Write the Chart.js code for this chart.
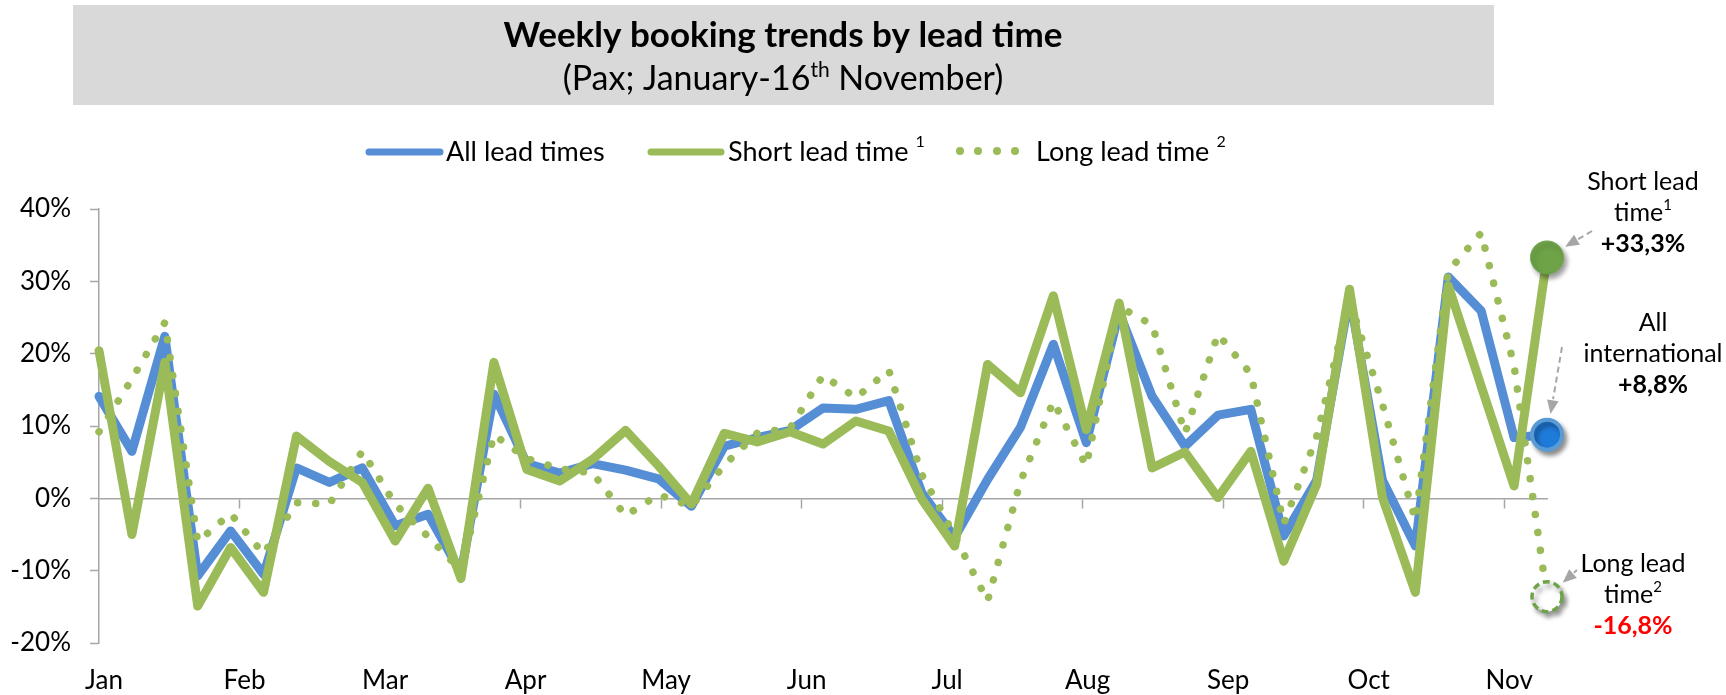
<!DOCTYPE html>
<html>
<head>
<meta charset="utf-8">
<title>Weekly booking trends by lead time</title>
<script src="https://cdn.jsdelivr.net/npm/chart.js@4.4.1/dist/chart.umd.min.js"></script>
<style>
    html, body { margin: 0; padding: 0; background: #fff; }
    #wrap { width: 1726px; height: 695px; }
</style>
</head>
<body>
<div id="wrap"><canvas id="chart" width="1726" height="695"></canvas></div>
<script>
// ─── DATA ─────────────────────────────────────────────────
const months = ['Jan', 'Feb', 'Mar', 'Apr', 'May', 'Jun', 'Jul', 'Aug', 'Sep', 'Oct', 'Nov']
const monthStep = 4.27 // weeks between month ticks on the axis

// weekly change vs last year, %
const allLead = [
    14.1, 6.5, 22.4, -10.7, -4.5, -10.5, 4.2, 2.2, 4.2, -3.8, -2.2, -10.3,
    14.4, 4.8, 3.5, 4.8, 3.9, 2.7, -1.1, 7.2, 8.4, 9.4, 12.5, 12.3,
    13.5, 0.8, -5.4, 2.6, 9.8, 21.3, 7.7, 25.7, 14.1, 7.2, 11.5, 12.3,
    -5.2, 2.5, 28.0, 2.5, -6.6, 30.6, 25.9, 8.4, 8.8
]
const shortLead = [
    20.4, -5.0, 18.8, -14.9, -6.8, -13.0, 8.6, 5.1, 2.2, -5.9, 1.4, -11.1,
    18.8, 4.0, 2.4, 5.4, 9.4, 4.5, -0.8, 9.0, 7.8, 9.2, 7.5, 10.7,
    9.3, -0.1, -6.6, 18.5, 14.6, 28.0, 9.5, 27.0, 4.2, 6.4, 0.1, 6.5,
    -8.7, 1.9, 28.9, 0.1, -13.0, 29.4, 15.5, 1.7, 33.3
]
const longLead = [
    9.2, 16.5, 24.3, -6.0, -2.1, -7.7, -0.6, -0.8, 6.5, -0.8, -5.3, -10.0,
    8.8, 5.5, 4.1, 3.5, -2.4, 0.5, -1.1, 4.6, 9.0, 9.7, 17.0, 13.9,
    17.7, 3.3, -5.2, -14.2, 2.3, 13.4, 4.5, 26.5, 24.0, 9.0, 22.7, 17.2,
    -3.5, 8.5, 27.5, 13.0, -3.0, 31.4, 36.7, 18.3, -13.6
]
const endLabels = { short: '+33,3%', all: '+8,8%', long: '-16,8%' }

// ─── STYLE ────────────────────────────────────────────────
const BLUE = '#558ed5'
const GREEN = '#9bbb59'
const DARK_GREEN = '#6ea348'
const AXIS = '#a6a6a6'
const FONT = 'Lato, "Open Sans", sans-serif'

const toPoints = arr => arr.map((v, i) => ({ x: i, y: v }))
const lastPoint = arr => [{ x: arr.length - 1, y: arr[arr.length - 1] }]

// ─── TEXT HELPERS ─────────────────────────────────────────
// parts: [{ t, size, bold, dy, gap }]
function richWidth(ctx, parts) {
    return parts.reduce((w, p) => {
        ctx.font = `${p.bold ? 'bold ' : ''}${p.size}px ${FONT}`
        return w + ctx.measureText(p.t).width + (p.gap || 0)
    }, 0)
}

function drawRich(ctx, parts, x, y, align = 'left', color = '#000') {
    let cx = align === 'center' ? x - richWidth(ctx, parts) / 2 : x
    ctx.textAlign = 'left'
    ctx.textBaseline = 'alphabetic'
    ctx.fillStyle = color
    parts.forEach(p => {
        ctx.font = `${p.bold ? 'bold ' : ''}${p.size}px ${FONT}`
        ctx.fillText(p.t, cx, y + (p.dy || 0))
        cx += ctx.measureText(p.t).width + (p.gap || 0)
    })
}

function drawArrow(ctx, x1, y1, x2, y2) {
    const ang = Math.atan2(y2 - y1, x2 - x1)
    const head = 15
    ctx.save()
    ctx.strokeStyle = AXIS
    ctx.fillStyle = AXIS
    ctx.lineWidth = 2
    ctx.setLineDash([6, 4])
    ctx.beginPath()
    ctx.moveTo(x1, y1)
    ctx.lineTo(x2 - Math.cos(ang) * head, y2 - Math.sin(ang) * head)
    ctx.stroke()
    ctx.setLineDash([])
    ctx.beginPath()
    ctx.moveTo(x2, y2)
    ctx.lineTo(x2 - Math.cos(ang - 0.4) * head, y2 - Math.sin(ang - 0.4) * head)
    ctx.lineTo(x2 - Math.cos(ang + 0.4) * head, y2 - Math.sin(ang + 0.4) * head)
    ctx.closePath()
    ctx.fill()
    ctx.restore()
}

// ─── PLUGIN: title box, legend, end notes ─────────────────
const decor = {
    id: 'decor',
    beforeDraw(chart) {
        const ctx = chart.ctx
        ctx.save()
        ctx.fillStyle = '#d9d9d9'
        ctx.fillRect(73, 5, 1421, 100)

        drawRich(ctx, [{ t: 'Weekly booking trends by lead time', size: 35, bold: true }], 783, 47, 'center')
        drawRich(ctx, [
            { t: '(Pax; January-16', size: 34 },
            { t: 'th', size: 21, dy: -13 },
            { t: ' November)', size: 34 }
        ], 783, 90, 'center')

        // legend
        ctx.lineCap = 'round'
        ctx.lineWidth = 7
        ctx.strokeStyle = BLUE
        ctx.beginPath(); ctx.moveTo(369, 152); ctx.lineTo(440, 152); ctx.stroke()
        ctx.strokeStyle = GREEN
        ctx.beginPath(); ctx.moveTo(651, 152); ctx.lineTo(721, 152); ctx.stroke()
        ctx.fillStyle = GREEN
        ;[960, 978, 997, 1015].forEach(x => {
            ctx.beginPath(); ctx.arc(x, 151, 4, 0, Math.PI * 2); ctx.fill()
        })
        drawRich(ctx, [{ t: 'All lead times', size: 27 }], 446, 161)
        drawRich(ctx, [{ t: 'Short lead time', size: 27, gap: 7 }, { t: '1', size: 16, dy: -14 }], 728, 161)
        drawRich(ctx, [{ t: 'Long lead time', size: 27, gap: 7 }, { t: '2', size: 16, dy: -14 }], 1036, 161)
        ctx.restore()
    },
    beforeDatasetDraw(chart, args) {
        const ds = chart.data.datasets[args.index]
        if (!ds.shadow) return
        const ctx = chart.ctx
        ctx.save()
        ctx.shadowColor = 'rgba(0,0,0,0.4)'
        ctx.shadowBlur = 5
        ctx.shadowOffsetX = 3
        ctx.shadowOffsetY = 4
        if (ds.ringDash) ctx.setLineDash(ds.ringDash)
    },
    afterDatasetDraw(chart, args) {
        const ds = chart.data.datasets[args.index]
        if (ds.shadow) chart.ctx.restore()
    },
    afterDraw(chart) {
        const ctx = chart.ctx
        const xs = chart.scales.x
        const ys = chart.scales.y
        const last = allLead.length - 1
        const px = xs.getPixelForValue(last)

        const notes = [
            { lines: [[{ t: 'Short lead', size: 25 }], [{ t: 'time', size: 25 }, { t: '1', size: 15, dy: -11 }], [{ t: endLabels.short, size: 25, bold: true }]],
              x: 1643, y: 190, color: '#000', from: [1592, 231], value: shortLead[last] },
            { lines: [[{ t: 'All', size: 25 }], [{ t: 'international', size: 25 }], [{ t: endLabels.all, size: 25, bold: true }]],
              x: 1653, y: 331, color: '#000', from: [1562, 347], value: allLead[last] },
            { lines: [[{ t: 'Long lead', size: 25 }], [{ t: 'time', size: 25 }, { t: '2', size: 15, dy: -11 }], [{ t: endLabels.long, size: 25, bold: true }]],
              x: 1633, y: 572, color: '#ff0000', from: [1577, 570], value: longLead[last] }
        ]
        ctx.save()
        notes.forEach(n => {
            n.lines.forEach((parts, i) => {
                drawRich(ctx, parts, n.x, n.y + i * 31, 'center', i === 2 ? n.color : '#000')
            })
            const py = ys.getPixelForValue(n.value)
            const dx = n.from[0] - px
            const dy = n.from[1] - py
            const len = Math.hypot(dx, dy)
            drawArrow(ctx, n.from[0], n.from[1], px + dx / len * 21, py + dy / len * 21)
        })
        ctx.restore()
    }
}

// ─── CHART ────────────────────────────────────────────────
function init() {
    const xMax = allLead.length - 1
    const monthLabel = v => {
        const i = Math.round(v / monthStep)
        return Math.abs(v / monthStep - i) < 0.01 && months[i] ? months[i] : ''
    }

    new Chart(document.getElementById('chart'), {
        type: 'line',
        data: {
            datasets: [
                {
                    label: 'Short lead time end', data: lastPoint(shortLead), showLine: false,
                    pointRadius: 16.5, pointBackgroundColor: DARK_GREEN, pointBorderColor: DARK_GREEN,
                    pointBorderWidth: 1, shadow: true, clip: false
                },
                {
                    label: 'All lead times end', data: lastPoint(allLead), showLine: false,
                    pointRadius: 15, pointBackgroundColor: '#1f7bd9', pointBorderColor: '#5b9bd5',
                    pointBorderWidth: 4, shadow: true, clip: false
                },
                {
                    label: 'Long lead time end', data: lastPoint(longLead), showLine: false,
                    pointRadius: 15, pointBackgroundColor: '#ffffff', pointBorderColor: DARK_GREEN,
                    pointBorderWidth: 3.5, shadow: true, ringDash: [7, 4], clip: false
                },
                {
                    label: 'Short lead time', data: toPoints(shortLead), borderColor: GREEN,
                    borderWidth: 9, pointRadius: 0, borderJoinStyle: 'round', borderCapStyle: 'round', clip: false
                },
                {
                    label: 'Long lead time', data: toPoints(longLead), borderColor: GREEN,
                    borderWidth: 7.5, pointRadius: 0, borderDash: [0.1, 18], borderCapStyle: 'round',
                    borderJoinStyle: 'round', clip: false
                },
                {
                    label: 'All lead times', data: toPoints(allLead), borderColor: BLUE,
                    borderWidth: 9, pointRadius: 0, borderJoinStyle: 'round', borderCapStyle: 'round', clip: false
                }
            ]
        },
        options: {
            responsive: false,
            animation: false,
            events: [],
            layout: { padding: { top: 209, right: 179, left: 0, bottom: 0 } },
            plugins: { legend: { display: false }, tooltip: { enabled: false } },
            scales: {
                x: {
                    type: 'linear', position: 'bottom', min: 0, max: xMax,
                    grid: { display: false, drawTicks: false },
                    border: { display: false },
                    ticks: {
                        stepSize: monthStep, includeBounds: false, autoSkip: false, maxRotation: 0,
                        padding: 22, labelOffset: 5, color: '#000',
                        font: { family: FONT, size: 26 },
                        callback: monthLabel
                    },
                    afterFit: s => { s.height = 52 }
                },
                x2: {
                    type: 'linear', axis: 'x', position: { y: 0 }, min: 0, max: xMax,
                    grid: {
                        drawOnChartArea: false, tickLength: 9, tickWidth: 1.5,
                        tickColor: c => (monthLabel(c.tick.value) && c.tick.value > 0 ? AXIS : 'rgba(0,0,0,0)')
                    },
                    border: { color: AXIS, width: 1.5 },
                    ticks: { display: false, stepSize: monthStep, includeBounds: false, autoSkip: false }
                },
                y: {
                    min: -20, max: 40,
                    grid: { drawOnChartArea: false, tickLength: 9, tickWidth: 1.5, color: AXIS },
                    border: { color: AXIS, width: 1.5 },
                    ticks: {
                        stepSize: 10, padding: 19, color: '#000',
                        font: { family: FONT, size: 26 },
                        callback: v => `${v}%`
                    },
                    afterFit: s => { s.width = 99 }
                }
            }
        },
        plugins: [decor]
    })
}

document.fonts.load(`25px ${FONT}`).then(init, init)
</script>
</body>
</html>
